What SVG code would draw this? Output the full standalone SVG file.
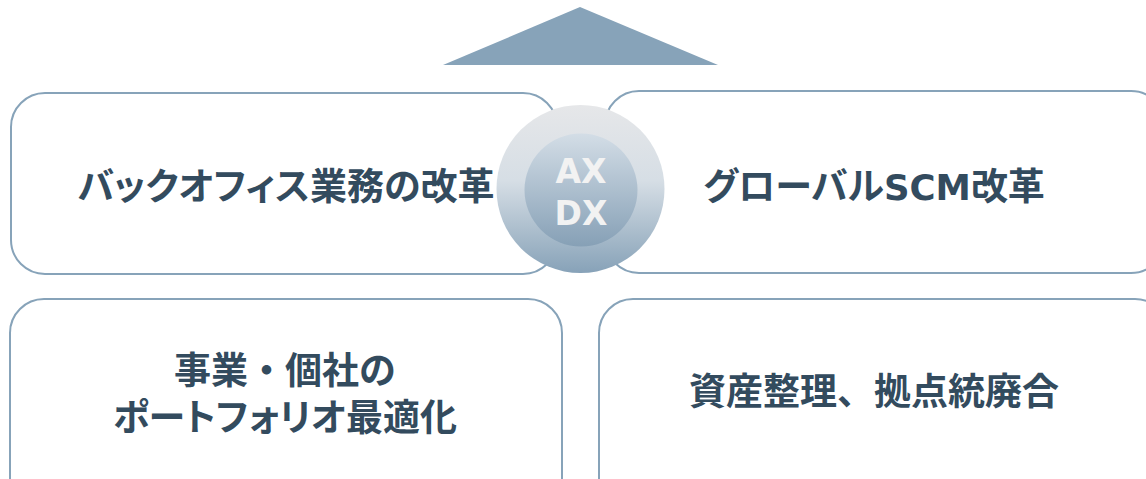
<svg xmlns="http://www.w3.org/2000/svg" width="1146" height="479" viewBox="0 0 1146 479">
<defs>
<linearGradient id="gOuter" x1="0" y1="0" x2="0" y2="1">
<stop offset="0" stop-color="#e6e7e9"/>
<stop offset="0.45" stop-color="#d6dee5"/>
<stop offset="1" stop-color="#87a2b8"/>
</linearGradient>
<linearGradient id="gInner" x1="0" y1="0" x2="0" y2="1">
<stop offset="0" stop-color="#d3dde6"/>
<stop offset="1" stop-color="#86a0b6"/>
</linearGradient>
<style>
.box{fill:#ffffff;stroke:#87a3b9;stroke-width:2}
.lbl{font-family:"Noto Sans CJK JP","Noto Sans",sans-serif;font-weight:700;font-size:37px;fill:#334b5e;text-anchor:middle;font-feature-settings:"palt"}
.full{font-feature-settings:normal}
.lat{font-family:"DejaVu Sans",sans-serif;font-weight:700}
.ax{font-family:"DejaVu Sans","Liberation Sans",sans-serif;font-weight:700;font-size:33px;fill:#f2f2f2;text-anchor:middle}
</style>
</defs>
<rect width="1146" height="479" fill="#ffffff"/>
<polygon id="arrow" points="580,7 718,65 443,65" fill="#87a3b9"/>
<g id="n1"><rect class="box" x="11" y="93" width="546" height="181" rx="34"/><text class="lbl" x="286" y="200">バックオフィス業務の改革</text></g>
<g id="n2"><rect class="box" x="605" y="91" width="560" height="182" rx="34"/><text class="lbl" x="874" y="200" font-size="38">グローバル<tspan class="lat" font-size="35.5">SCM</tspan>改革</text></g>
<g id="n3"><rect class="box" x="10" y="299" width="552" height="220" rx="34"/><text class="lbl" x="285" y="384"><tspan class="full" x="285" y="384">事業・個社の</tspan><tspan x="285" y="431">ポートフォリオ最適化</tspan></text></g>
<g id="n4"><rect class="box" x="599" y="299" width="570" height="220" rx="34"/><text class="lbl full" x="874" y="405" font-size="38.5">資産整理、拠点統廃合</text></g>
<g id="hub">
<circle cx="580.5" cy="189" r="84" fill="url(#gOuter)"/>
<circle cx="581" cy="190" r="56.5" fill="url(#gInner)"/>
<text class="ax" x="581" y="183">AX</text>
<text class="ax" x="581" y="225">DX</text>
</g>
<g id="connectors"></g>
</svg>
